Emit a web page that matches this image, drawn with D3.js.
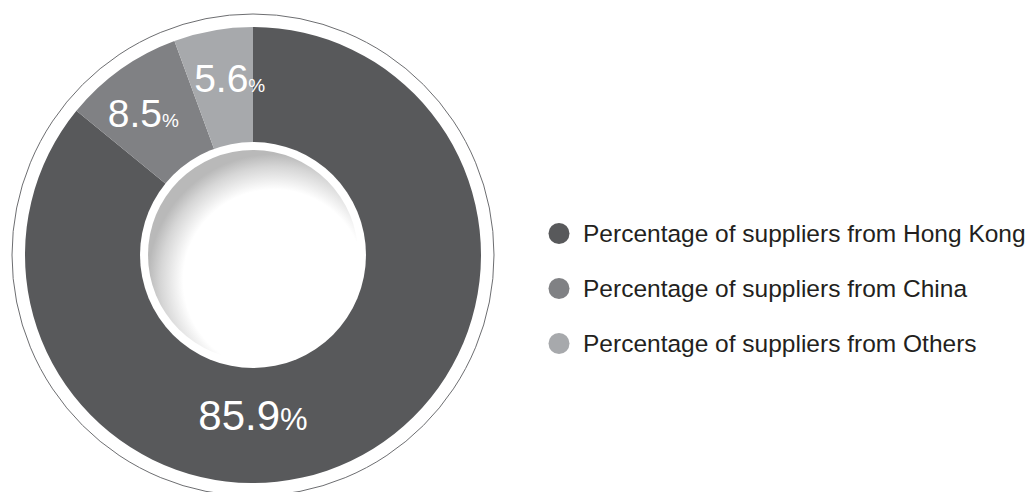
<!DOCTYPE html>
<html>
<head>
<meta charset="utf-8">
<script src="https://cdn.jsdelivr.net/npm/d3@7"></script>
<style>
  html, body { margin: 0; padding: 0; background: #fff; }
  svg { display: block; font-family: "Liberation Sans", Arial, Helvetica, sans-serif; }
</style>
</head>
<body>
<svg id="chart" width="1030" height="492"></svg>
<script>
var categories = ["Percentage of suppliers from Hong Kong",
                  "Percentage of suppliers from China",
                  "Percentage of suppliers from Others"];
var values = [85.9, 8.5, 5.6];
var colours = ["#58595b", "#808184", "#a7a9ac"];

var cx = 253, cy = 255;
var outer_r = 228, inner_r = 110, rim_r = 241, hole_r = 113, ball_r = 105;

var svg = d3.select("#chart");

var defs = svg.append("defs");
var grad = defs.append("radialGradient")
    .attr("id", "ball")
    .attr("cx", 0.6).attr("cy", 0.62).attr("r", 0.6)
    .attr("fx", 0.6).attr("fy", 0.62);
grad.append("stop").attr("offset", 0).attr("stop-color", "#fff");
grad.append("stop").attr("offset", 0.72).attr("stop-color", "#fff");
grad.append("stop").attr("offset", 0.9).attr("stop-color", "#d6d6d6");
grad.append("stop").attr("offset", 1).attr("stop-color", "#b9b9b9");

var g = svg.append("g")
    .attr("transform", "translate(" + cx + "," + cy + ")");

// thin outer ring
g.append("circle")
    .attr("r", rim_r)
    .attr("fill", "none")
    .attr("stroke", "#6d6e71")
    .attr("stroke-width", 1);

var data = categories.map(function(c, i) { return {name: c, value: values[i], colour: colours[i]}; });

var pie = d3.pie().sort(null).value(function(d) { return d.value; });
var arc = d3.arc().innerRadius(inner_r).outerRadius(outer_r);

var arcs = pie(data);

g.append("g").selectAll("path")
    .data(arcs)
    .enter().append("path")
    .attr("d", arc)
    .attr("fill", function(d) { return d.data.colour; });

// centre hole
g.append("circle").attr("r", hole_r).attr("fill", "#fff");
g.append("circle").attr("r", ball_r).attr("fill", "url(#ball)");

// big slice label sits at the bottom, the small ones are spread a little apart
var maxVal = d3.max(values);
var deg = Math.PI / 180;
function labelPos(d, i) {
    if (d.data.value === maxVal) return d3.pointRadial(Math.PI, 161);
    var mid = (d.startAngle + d.endAngle) / 2;
    var spread = i === 1 ? -2.3 * deg : 2.6 * deg;
    return d3.pointRadial(mid + spread, 179);
}

var labels = g.append("g").selectAll("text")
    .data(arcs)
    .enter().append("text")
    .attr("fill", "#fff")
    .attr("text-anchor", "middle")
    .attr("transform", function(d, i) {
        var p = labelPos(d, i);
        return "translate(" + p[0] + "," + (p[1] + 14) + ")";
    });
labels.append("tspan")
    .attr("font-size", function(d) { return d.data.value === maxVal ? "42px" : "39px"; })
    .text(function(d) { return d3.format(".1f")(d.data.value); });
labels.append("tspan")
    .attr("font-size", function(d) { return d.data.value === maxVal ? "31px" : "19px"; })
    .text("%");

// legend
var legend = svg.append("g").selectAll("g")
    .data(data)
    .enter().append("g")
    .attr("transform", function(d, i) { return "translate(559," + (233.5 + i * 55) + ")"; });
legend.append("circle")
    .attr("r", 10.5)
    .attr("fill", function(d) { return d.colour; });
legend.append("text")
    .attr("x", 24)
    .attr("dy", "0.35em")
    .attr("font-size", "24.5px")
    .attr("fill", "#231f20")
    .text(function(d) { return d.name; });
</script>
</body>
</html>
